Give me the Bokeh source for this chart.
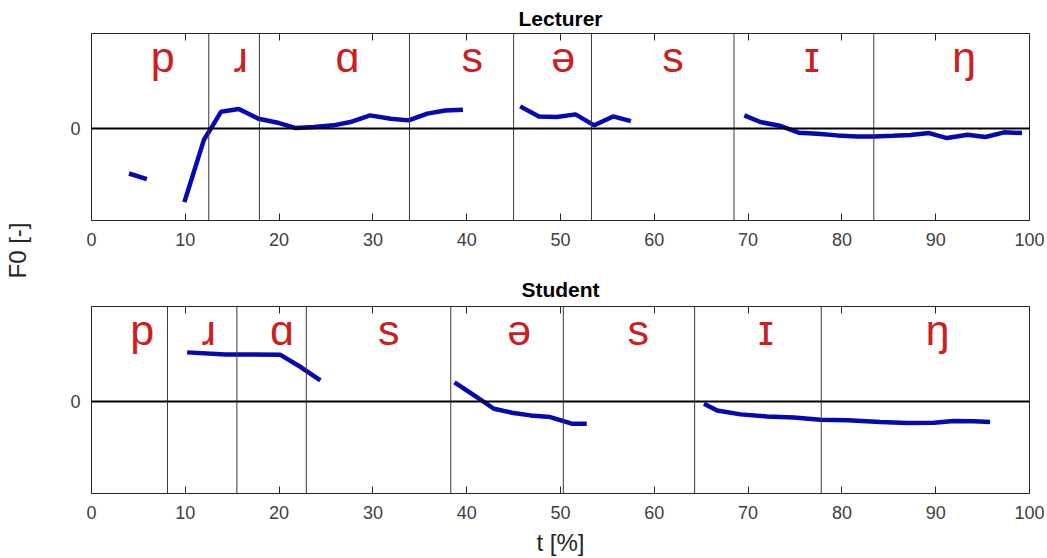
import math
import numpy as np
from bokeh.plotting import figure
from bokeh.layouts import column, row
from bokeh.models import Span, Label, LinearAxis, FixedTicker, ColumnDataSource, Range1d, CustomJSTickFormatter
from bokeh.embed import file_html
from bokeh.resources import INLINE
from bokeh.core.properties import value

nan = float("nan")

# ---------------- data ----------------
x_ticks = [0, 10, 20, 30, 40, 50, 60, 70, 80, 90, 100]
y_ticks = [0]

lect_bounds = [12.5, 17.9, 33.9, 45.0, 53.3, 68.5, 83.4]
lect_phon = ["p", "ɹ", "ɑ", "s", "ə", "s", "ɪ", "ŋ"]
lect_phon_t = [7.6, 15.9, 27.3, 40.6, 50.3, 62.0, 76.8, 93.0]
lect_t = [4.0, 5.9, nan,
          9.9, 12.0, 12.5, 13.8, 15.7, 17.8, 20.0, 21.8, 23.7, 25.8, 27.6, 29.7, 31.9, 33.8, 35.8, 37.7, 39.6, nan,
          45.7, 47.7, 49.6, 51.6, 53.6, 55.6, 57.5, nan,
          69.6, 71.3, 73.5, 75.4, 77.4, 79.5, 81.6, 83.4, 85.4, 87.3, 89.3, 91.2, 93.4, 95.3, 97.3, 99.2]
lect_f0 = [-0.49, -0.55, nan,
           -0.80, -0.12, -0.04, 0.18, 0.21, 0.105, 0.058, 0.003, 0.014, 0.033, 0.069, 0.141, 0.105, 0.087, 0.16, 0.195, 0.203, nan,
           0.239, 0.13, 0.123, 0.152, 0.033, 0.13, 0.079, nan,
           0.141, 0.069, 0.025, -0.047, -0.058, -0.076, -0.087, -0.087, -0.08, -0.072, -0.051, -0.105, -0.069, -0.094, -0.043, -0.051]

stud_bounds = [8.1, 15.5, 22.9, 38.3, 50.3, 64.3, 77.8]
stud_phon = ["p", "ɹ", "ɑ", "s", "ə", "s", "ɪ", "ŋ"]
stud_phon_t = [5.4, 12.5, 20.3, 31.7, 45.6, 58.3, 71.9, 90.2]
stud_t = [10.2, 14.3, 20.1, 22.3, 24.4, nan,
          38.7, 40.8, 42.9, 45.0, 46.8, 48.9, 51.2, 52.8, nan,
          65.3, 66.7, 69.2, 72.0, 74.9, 77.7, 80.6, 84.1, 87.0, 89.8, 91.9, 94.1, 95.8]
stud_f0 = [0.532, 0.51, 0.507, 0.373, 0.228, nan,
           0.206, 0.065, -0.08, -0.127, -0.152, -0.17, -0.242, -0.242, nan,
           -0.025, -0.098, -0.141, -0.163, -0.174, -0.199, -0.206, -0.224, -0.235, -0.231, -0.214, -0.217, -0.224]

# ---------------- style ----------------
FONT = "Liberation Sans"
BLUE = "#0808b0"
RED = "#cc2020"
FRAME = "#262626"
TICKC = "#404040"
LEFT_W = 40
W = 1007
Y0, Y1 = -1.0, 1.03
PHON_Y = 0.78


def make_fig(height, top, bottom, title, title_standoff, label_standoff,
             bounds, phon, phon_t, t, f0):
    p = figure(width=W, height=height, output_backend="svg", toolbar_location=None,
               x_range=Range1d(0, 100), y_range=Range1d(Y0, Y1),
               min_border_left=91 - LEFT_W, min_border_right=18,
               min_border_top=top, min_border_bottom=bottom, title=title)
    p.title.align = "center"
    p.title.text_font = FONT
    p.title.text_font_size = "21px"
    p.title.text_font_style = "bold"
    p.title.text_color = "black"
    p.title.standoff = title_standoff
    p.xgrid.visible = False
    p.ygrid.visible = False
    p.outline_line_color = FRAME
    p.outline_line_width = 1
    p.background_fill_color = "white"
    p.border_fill_color = "white"

    for ax in p.xaxis:
        ax.ticker = FixedTicker(ticks=x_ticks)
        ax.major_tick_in = 7
        ax.major_tick_out = 0
        ax.minor_tick_line_color = None
        ax.axis_line_color = None
        ax.major_tick_line_color = FRAME
        ax.major_label_text_font = FONT
        ax.major_label_text_font_size = "18px"
        ax.major_label_text_color = TICKC
        ax.major_label_standoff = label_standoff
    for ax in p.yaxis:
        ax.ticker = FixedTicker(ticks=y_ticks)
        ax.major_tick_in = 0
        ax.major_tick_out = 0
        ax.minor_tick_line_color = None
        ax.axis_line_color = None
        ax.major_label_text_font = FONT
        ax.major_label_text_font_size = "18px"
        ax.major_label_text_color = TICKC
        ax.major_label_standoff = 11

    top_ax = LinearAxis(ticker=FixedTicker(ticks=x_ticks), major_tick_in=7, major_tick_out=0,
                        minor_tick_line_color=None, axis_line_color=None,
                        major_tick_line_color=FRAME,
                        formatter=CustomJSTickFormatter(code="return ''"),
                        major_label_standoff=0)
    p.add_layout(top_ax, "above")

    for b in bounds:
        p.add_layout(Span(location=b, dimension="height", line_color="#3a3a3a", line_width=1))
    p.add_layout(Span(location=0, dimension="width", line_color="black", line_width=2))

    src = ColumnDataSource(dict(x=phon_t, y=[PHON_Y] * len(phon_t), txt=phon))
    p.text(x="x", y="y", text="txt", source=src, text_font=value(FONT),
           text_font_size="43px", text_color=RED, text_align="center",
           text_baseline="alphabetic")

    p.line(t, f0, line_color=BLUE, line_width=4.5)
    return p


p1 = make_fig(265, 33, 45, "Lecturer", 8, 12, lect_bounds, lect_phon, lect_phon_t, lect_t, lect_f0)
p2 = make_fig(293, 41, 65, "Student", 11, 12, stud_bounds, stud_phon, stud_phon_t, stud_t, stud_f0)
xb = p2.below[0]
xb.axis_label = "t [%]"
xb.axis_label_text_font = FONT
xb.axis_label_text_font_size = "24px"
xb.axis_label_text_font_style = "normal"
xb.axis_label_text_color = "#262626"
xb.axis_label_standoff = 7

# narrow panel on the left carrying the shared y label
p0 = figure(width=LEFT_W, height=558, output_backend="svg", toolbar_location=None,
            x_range=Range1d(0, LEFT_W), y_range=Range1d(0, 558),
            x_axis_type=None, y_axis_type=None,
            min_border_left=0, min_border_right=0, min_border_top=0, min_border_bottom=0)
p0.outline_line_color = None
p0.xgrid.visible = False
p0.ygrid.visible = False
p0.add_layout(Label(x=17, y=558 - 250, text="F0 [-]", angle=math.pi / 2, text_font=FONT,
                    text_font_size="24px", text_color="#262626", text_align="center",
                    text_baseline="middle"))

layout = row(p0, column(p1, p2, spacing=0), spacing=0)
open("out.html", "w").write(file_html(layout, INLINE))
